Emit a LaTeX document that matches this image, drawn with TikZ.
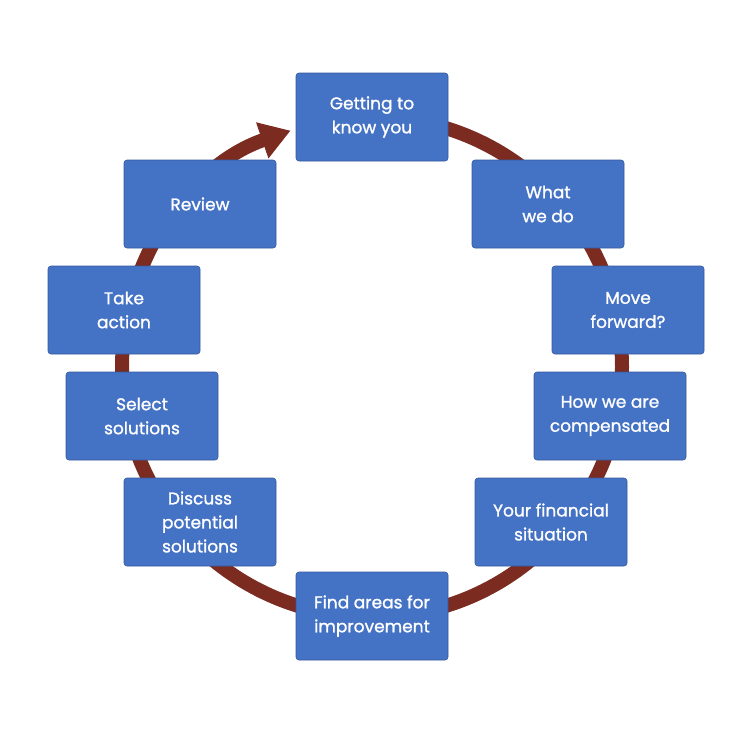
\documentclass[tikz,border=0pt]{standalone}
\usepackage{fontspec}
\setmainfont{Poppins}
\usetikzlibrary{arrows.meta}
\definecolor{boxblue}{HTML}{4472C4}
\definecolor{ring}{HTML}{7B2B20}
\begin{document}
\begin{tikzpicture}[x=1pt,y=-1pt,
  box/.style={fill=boxblue,draw=boxblue!80!black,line width=0.6pt,rounded corners=3pt,minimum width=152pt,minimum height=88pt,text=white,align=center,font=\fontsize{17}{24}\selectfont\addfontfeatures{FakeBold=1.2},inner sep=2pt}]
\useasboundingbox (0,0) rectangle (750,750);
\coordinate (c) at (372,367);
\draw[ring,line width=14pt,-{Triangle[length=30pt,width=36pt]}] ([shift={(-90:250)}]c) arc[start angle=-90,end angle=251,radius=250];
\node[box] (a) at (372,117) {Getting to\\know you};
\node[box] (b) at (548,204) {What\\we do};
\node[box] (d) at (628,310) {Move\\forward?};
\node[box] (e) at (610,416) {How we are\\compensated};
\node[box] (f) at (551,522) {Your financial\\situation};
\node[box] (g) at (372,616) {Find areas for\\improvement};
\node[box] (h) at (200,522) {Discuss\\potential\\solutions};
\node[box] (i) at (142,416) {Select\\solutions};
\node[box] (j) at (124,310) {Take\\action};
\node[box] (k) at (200,204) {Review};
\end{tikzpicture}
\end{document}
